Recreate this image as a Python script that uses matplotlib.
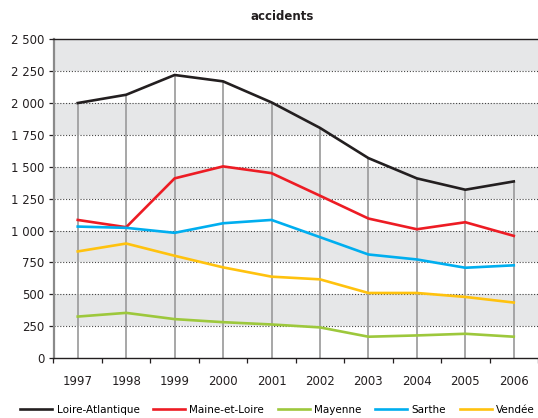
import matplotlib
matplotlib.use("Agg")
import matplotlib.pyplot as plt
from matplotlib.ticker import FixedLocator

years = ["1997", "1998", "1999", "2000", "2001", "2002", "2003", "2004", "2005", "2006"]
loire_atlantique = [2000, 2065, 2220, 2170, 2005, 1805, 1568, 1409, 1320, 1385]
maine_et_loire = [1083, 1026, 1409, 1503, 1450, 1273, 1094, 1010, 1065, 958]
mayenne = [325, 354, 305, 281, 263, 240, 167, 177, 190, 167]
sarthe = [1031, 1021, 982, 1057, 1083, 948, 812, 773, 708, 727]
vendee = [836, 898, 802, 711, 638, 617, 510, 510, 479, 435]

series_names = ["Loire-Atlantique", "Maine-et-Loire", "Mayenne", "Sarthe", "Vendée"]
series_values = [loire_atlantique, maine_et_loire, mayenne, sarthe, vendee]
series_colors = ["#231f20", "#ed1c24", "#9dc83c", "#00aeef", "#ffc20e"]

y_ticks = [0, 250, 500, 750, 1000, 1250, 1500, 1750, 2000, 2250, 2500]
y_tick_labels = ["0", "250", "500", "750", "1 000", "1 250", "1 500", "1 750", "2 000", "2 250", "2 500"]
title = "accidents"

plt.rcParams['font.family'] = ['DejaVu Sans']

fig = plt.figure(figsize=(5.38, 4.18), dpi=100)
ax = fig.add_axes([53.5 / 538, 1 - 358 / 418, 1 - 53.5 / 538, (358 - 39.3) / 418])

x = list(range(len(years)))
ax.set_xlim(-0.5, len(years) - 0.5)
ax.set_ylim(y_ticks[0], y_ticks[-1])

# alternating bands
for i in range(len(y_ticks) - 1):
    if i % 2 == 1:
        ax.axhspan(y_ticks[i], y_ticks[i + 1], color="#e6e7e8", zorder=0, lw=0)

# dotted gridlines
for v in y_ticks[1:-1]:
    ax.axhline(v, color="#444444", lw=0.8, ls=(0, (1, 1.6)), zorder=1)

# drop lines
maxima = [max(vals) for vals in zip(*series_values)]
ax.vlines(x, 0, maxima, color="#a0a0a0", lw=1.3, zorder=2)

for name, vals, col in zip(series_names, series_values, series_colors):
    ax.plot(x, vals, color=col, lw=1.9, label=name, zorder=3, solid_joinstyle="miter")

ax.set_yticks(y_ticks)
ax.set_yticklabels(y_tick_labels, fontsize=8.5, color="#231f20")
ax.set_xticks(x)
ax.set_xticklabels(years, fontsize=8.5, color="#231f20")
ax.xaxis.set_minor_locator(FixedLocator([i + 0.5 for i in range(-1, len(years))]))
ax.tick_params(axis="x", which="major", length=0, pad=12)
ax.tick_params(axis="x", which="minor", length=3.5, width=0.9, color="#231f20")
ax.tick_params(axis="y", which="major", length=3.5, width=0.9, color="#231f20", pad=3)

ax.spines["right"].set_visible(False)
ax.spines["top"].set_color("#231f20")
ax.spines["top"].set_linewidth(1.0)
ax.spines["bottom"].set_color("#231f20")
ax.spines["bottom"].set_linewidth(1.0)
ax.spines["left"].set_color("#8a8a8a")
ax.spines["left"].set_linewidth(1.6)

fig.text(282 / 538, 1 - 17 / 418, title, ha="center", va="center",
         fontsize=8.5, fontweight="bold", color="#231f20")

fig.legend(loc="center", bbox_to_anchor=(277.5 / 538, 1 - 410 / 418), ncol=5,
           frameon=False, fontsize=7.5, handlelength=3.1, handletextpad=0.4,
           columnspacing=1.3, borderaxespad=0, borderpad=0)

fig.savefig("out.png", dpi=100)
